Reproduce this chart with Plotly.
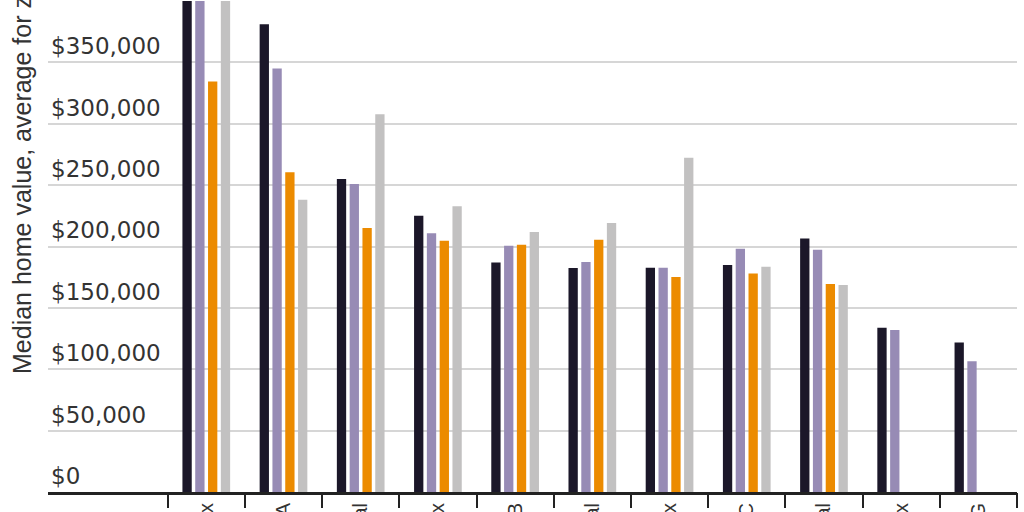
import plotly.graph_objects as go

# ---- data ----
groups = ["Phoenix, AZ  Tax", "Los Angeles, CA", "Seattle, WA  al", "Austin, TX  Tax",
          "Denver, CO  B", "Portland, OR  al", "Houston, TX  Tax", "Atlanta, GA  C",
          "Chicago, IL  al", "Dallas, TX  Tax", "Detroit, MI  G"]
positions = [0, 1, 2, 3, 4, 5, 6, 7, 8, 9, 10]
boundaries = [-0.5, 0.5, 1.5, 2.5, 3.5, 4.5, 5.5, 6.5, 7.5, 8.5, 9.5, 10.5]

series_names = ["Series 1", "Series 2", "Series 3", "Series 4"]
series_1 = [470000, 381000, 255000, 225000, 187000, 182500, 182700, 185000, 206600, 133800, 121800]
series_2 = [455000, 345000, 251000, 210700, 200700, 187400, 182700, 198200, 197400, 132000, 106500]
series_3 = [334500, 260500, 215000, 204700, 201500, 205600, 175100, 178100, 169400, None, None]
series_4 = [490000, 238000, 307800, 232700, 211800, 219200, 272200, 183500, 168600, None, None]

y_ticks = [0, 50000, 100000, 150000, 200000, 250000, 300000, 350000, 400000]
y_tick_labels = ["$0", "$50,000", "$100,000", "$150,000", "$200,000", "$250,000",
                 "$300,000", "$350,000", "$400,000"]

colors = ["#1b1729", "#978bb5", "#ec8b00", "#c2c1c1"]

fig = go.Figure()
for name, vals, col in zip(series_names, [series_1, series_2, series_3, series_4], colors):
    fig.add_trace(go.Bar(x=positions, y=vals, name=name, marker_color=col,
                         marker_line_width=0, showlegend=False))

# invisible trace to carry the boundary-tick axis
fig.add_trace(go.Scatter(x=boundaries, y=[0] * len(boundaries), xaxis="x2",
                         mode="markers", marker_opacity=0, showlegend=False,
                         hoverinfo="skip"))

fig.update_layout(
    width=1024, height=512,
    margin=dict(l=48, r=7, t=1, b=20),
    paper_bgcolor="white", plot_bgcolor="white",
    barmode="group", bargap=0.337, bargroupgap=0.273,
    font=dict(family="DejaVu Sans", color="#333333"),
    xaxis=dict(range=[-2.05, 10.5], tickmode="array", tickvals=positions, ticktext=groups,
               tickangle=-90, ticks="", showgrid=False, zeroline=False,
               showline=True, linecolor="#222222", linewidth=3,
               tickfont=dict(size=20, family="Liberation Sans", color="#333333"),
               automargin=False),
    xaxis2=dict(overlaying="x", matches="x", tickmode="array", tickvals=boundaries,
                ticks="outside", ticklen=15, tickwidth=1.5, tickcolor="#222222",
                showticklabels=False, showgrid=False, zeroline=False, showline=False,
                side="bottom", anchor="y", automargin=False),
    yaxis=dict(range=[0, 400000], tickmode="array", tickvals=y_ticks, ticktext=y_tick_labels,
               ticklabelposition="inside top", showgrid=True, gridcolor="#d6d6d6",
               gridwidth=1.5, zeroline=False, showline=False, ticks="",
               tickfont=dict(size=23, family="DejaVu Sans", color="#333333"),
               automargin=False),
    annotations=[dict(text="Median home value, average for zip codes in each group",
                      textangle=-90, xref="paper", yref="paper",
                      x=(22 - 48) / 969, y=(492 - 376) / 491,
                      xanchor="center", yanchor="bottom", showarrow=False,
                      font=dict(size=25, family="Liberation Sans", color="#333333"))],
)

fig.write_html("out.html", config={"displayModeBar": False},
               post_script="document.body.style.margin='0px';document.body.style.overflow='hidden';")
